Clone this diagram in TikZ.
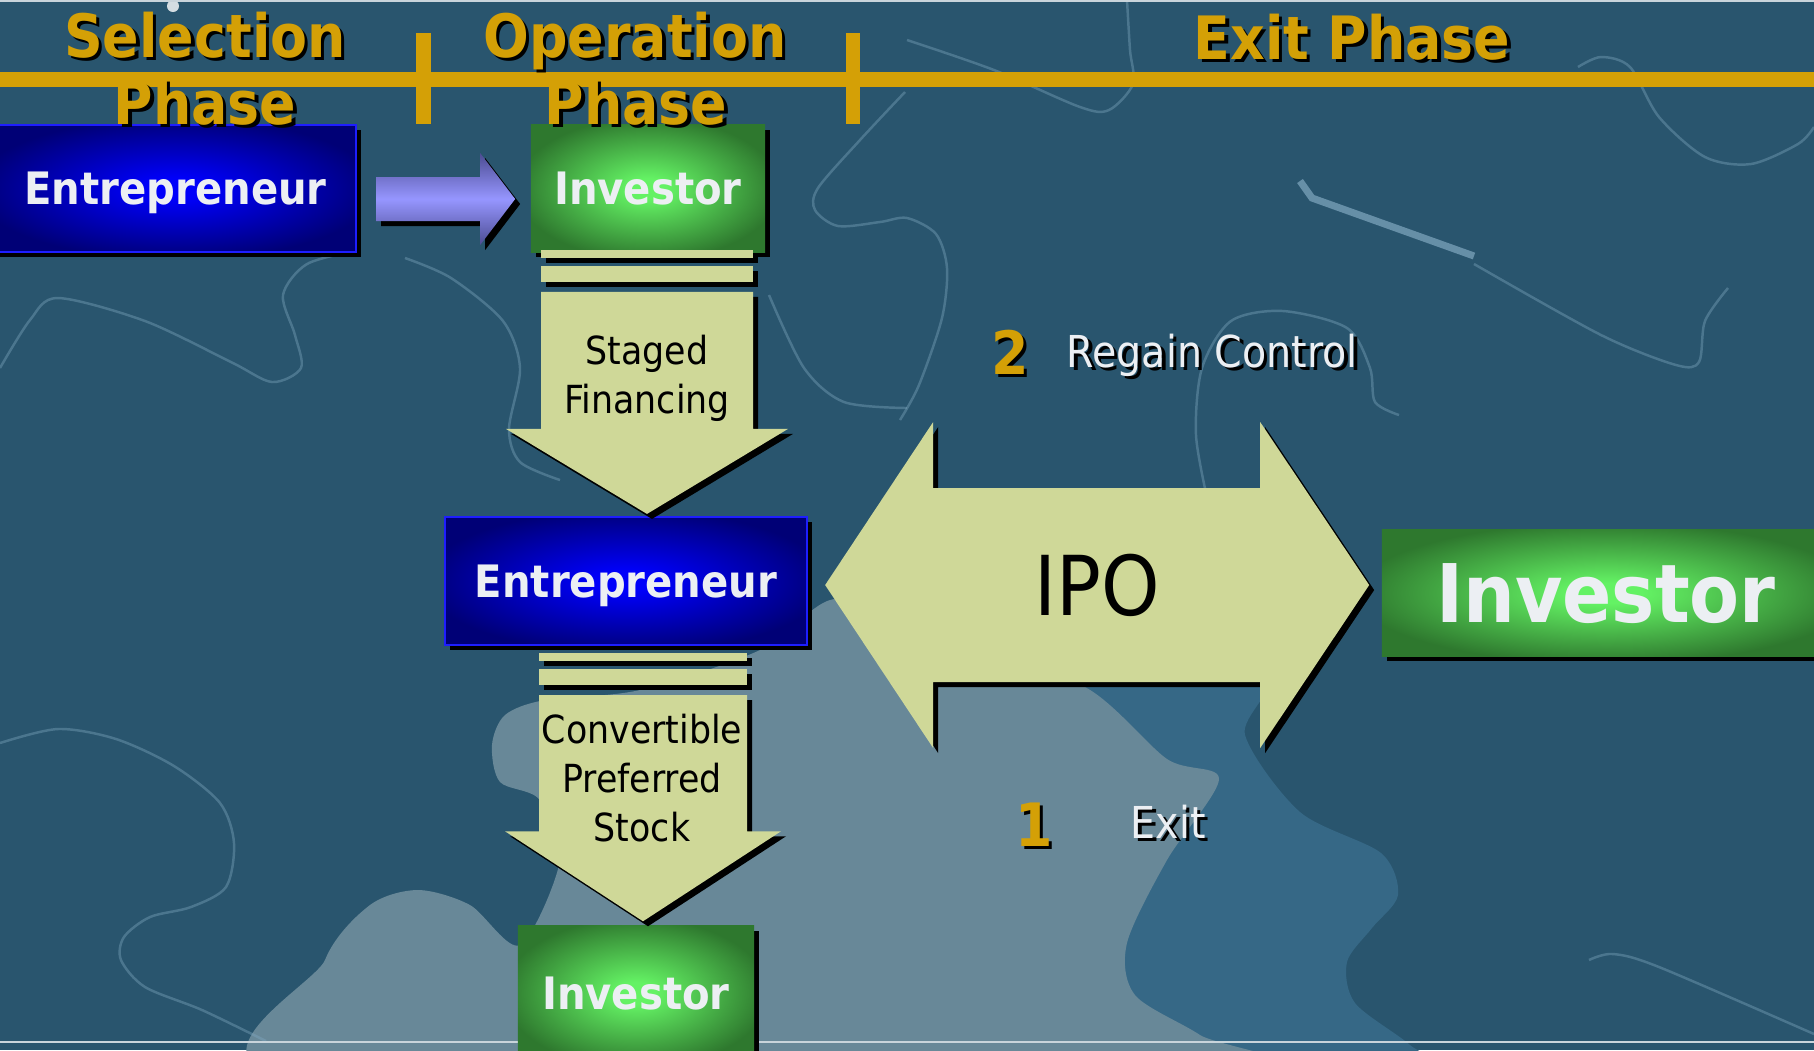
\documentclass[tikz,border=0pt]{standalone}
\usepackage{fontspec}
\setmainfont{DejaVu Sans}[FakeStretch=0.9]
\usetikzlibrary{calc}
\definecolor{slatebg}{RGB}{41,85,110}
\definecolor{pieceA}{RGB}{104,136,152}
\definecolor{pieceB}{RGB}{54,104,134}
\definecolor{seam}{RGB}{128,168,192}
\definecolor{phasegold}{RGB}{212,160,6}
\definecolor{palearrow}{RGB}{207,216,152}
\definecolor{blueIn}{RGB}{0,0,250}
\definecolor{blueOut}{RGB}{0,0,118}
\definecolor{blueEdge}{RGB}{30,30,255}
\definecolor{greenIn}{RGB}{100,242,100}
\definecolor{greenOut}{RGB}{46,120,46}
\definecolor{lilacIn}{RGB}{150,150,255}
\definecolor{lilacOut}{RGB}{76,76,146}
\definecolor{labelwhite}{RGB}{236,239,243}
\pgfdeclareradialshading{blueglow}{\pgfpoint{0bp}{0bp}}{color(0bp)=(blueIn); color(4bp)=(blueIn); color(28bp)=(blueOut); color(75bp)=(blueOut)}
\pgfdeclareradialshading{greenglow}{\pgfpoint{0bp}{0bp}}{color(0bp)=(greenIn); color(4bp)=(greenIn); color(28bp)=(greenOut); color(75bp)=(greenOut)}
\tikzset{
  hardshadow/.style={preaction={fill=black,transform canvas={shift={(#1,#1)}}}},
  hardshadow/.default=5,
  boxlabel/.style={inner sep=0pt,text=labelwhite,font=\bfseries\fontsize{12.7pt}{15pt}\selectfont,
    text height=9.3pt,text depth=0pt},
  entbox/.style={boxlabel,shade,shading=blueglow,draw=blueEdge,line width=0.6pt,hardshadow},
  invbox/.style={boxlabel,shade,shading=greenglow,hardshadow},
  bigbox/.style={invbox,font=\bfseries\fontsize{23pt}{27pt}\selectfont,text height=16.8pt},
  pale/.style={fill=palearrow,hardshadow},
  lilac/.style={hardshadow,top color=lilacOut,bottom color=lilacOut,middle color=lilacIn},
  arrowtext/.style={align=center,inner sep=0pt,font=\fontsize{11pt}{13.9pt}\selectfont},
  phasehead/.style={anchor=base,text=phasegold,inner sep=0pt,font=\bfseries\fontsize{17pt}{20pt}\selectfont},
  numtag/.style={anchor=base,text=phasegold,inner sep=0pt,font=\bfseries\fontsize{17pt}{20pt}\selectfont},
  notetext/.style={anchor=base west,text=labelwhite,inner sep=0pt,font=\fontsize{12.5pt}{15pt}\selectfont},
  seamline/.style={draw=seam,line width=0.7pt,opacity=0.4},
}
% text with a hard black drop shadow
\newcommand{\castnode}[4]{%
  \node[#3,text=black] at ($(#2)+(3.5,3.5)$) {#4};
  \node[#3] (#1) at (#2) {#4};}
% stacked bars plus a fat arrow pointing down
\newcommand{\dropblock}[5]{%
  \fill[pale] ($(#1)+(-#3,7)$) rectangle ($(#1)+(#3,15)$);
  \fill[pale] ($(#1)+(-#3,23)$) rectangle ($(#1)+(#3,39)$);
  \fill[pale] ($(#1)+(-#3,49)$) -- ($(#1)+(#3,49)$) -- ($(#2)+(#3,-#5)$) -- ($(#2)+(#4,-#5)$)
    -- (#2) -- ($(#2)+(-#4,-#5)$) -- ($(#2)+(-#3,-#5)$) -- cycle;}

\begin{document}
\begin{tikzpicture}[x=0.01cm,y=-0.01cm]
  \useasboundingbox (0,0) rectangle (1814,1050);
  \clip (0,0) rectangle (1814,1050);
  % backdrop and puzzle pieces
  \fill[slatebg] (0,0) rectangle (1814,1050);
  \fill[pieceB] plot[smooth cycle,tension=0.5] coordinates {(1083,676) (1262,676) (1245,735)
    (1300,812) (1381,853) (1398,895) (1372,928) (1347,962) (1355,1003) (1410,1045) (1440,1080) (1100,1080)};
  \fill[pieceA] plot[smooth cycle,tension=0.5] coordinates {(300,1080) (325,960) (370,905) (418,890)
    (470,905) (520,945) (560,860) (540,800) (500,782) (492,745) (505,715) (545,700) (640,690)
    (760,650) (830,600) (900,610) (960,660) (1083,686) (1167,759) (1219,779) (1167,860)
    (1127,943) (1135,995) (1200,1035) (1260,1080)};
  \begin{scope}[seamline]
    \draw plot[smooth] coordinates {(0,368) (30,320) (58,298) (145,321) (231,362) (272,382)
      (301,368) (295,335) (283,295) (307,264) (359,250)};
    \draw plot[smooth] coordinates {(405,258) (451,278) (503,321) (520,368) (509,429) (520,462) (560,480)};
    \draw plot[smooth] coordinates {(905,92) (860,140) (818,188) (815,210) (838,226) (880,222)
      (907,218) (936,234) (947,268) (942,318) (919,385) (900,420)};
    \draw plot[smooth] coordinates {(769,295) (804,368) (844,402) (907,408)};
    \draw plot[smooth] coordinates {(1127,0) (1130,50) (1133,84) (1109,110) (1080,107) (994,70) (907,40)};
    \draw plot[smooth] coordinates {(1578,67) (1601,57) (1630,67) (1659,117) (1705,157) (1751,164)
      (1798,144) (1814,127)};
    \draw plot[smooth] coordinates {(1474,264) (1601,335) (1676,365) (1699,362) (1705,321) (1728,288)};
    \draw plot[smooth] coordinates {(1399,415) (1375,402) (1370,368) (1347,328) (1283,311)
      (1231,321) (1202,368) (1196,435) (1208,502)};
    \draw plot[smooth] coordinates {(0,743) (58,729) (116,739) (174,766) (220,803) (234,843)
      (226,887) (191,907) (150,917) (124,937) (121,960) (145,987) (202,1010) (266,1041)};
    \draw plot[smooth] coordinates {(1589,960) (1613,954) (1659,967) (1814,1034)};
  \end{scope}
  \draw[seam,line width=2pt,opacity=0.7] (1300,181) -- (1312,198) -- (1474,256);
  \fill[white,opacity=0.8] (173,6) circle[radius=0.06cm];
  \draw[white!75!slatebg,line width=0.6pt] (0,1) -- (1814,1);
  \draw[white!75!slatebg,line width=0.8pt] (0,1042) -- (1814,1042);

  % phase ruler
  \fill[phasegold] (0,72) rectangle (1814,87);
  \fill[phasegold] (416,33) rectangle (431,124);
  \fill[phasegold] (846,33) rectangle (860,124);

  % boxes
  \node[entbox,minimum width=3.61cm,minimum height=1.27cm] (ent1) at (175.5,188.5) {Entrepreneur};
  \node[invbox,minimum width=2.34cm,minimum height=1.27cm] (inv1) at (648,188.5) {Investor};
  \node[entbox,minimum width=3.62cm,minimum height=1.28cm] (ent2) at (626,581) {Entrepreneur};
  \node[invbox,minimum width=2.36cm,minimum height=1.34cm] (inv2) at (636,993) {Investor};
  \node[bigbox,minimum width=4.48cm,minimum height=1.26cm] (inv3) at (1606,593) {Investor};

  % selection -> operation
  \coordinate (hand) at ($(ent1.east)+(19,10.5)$);
  \begin{scope}[shift={(hand)}]
    \path[lilac] (0,-22) -- (104,-22) -- (104,-46) -- (139,0) -- (104,46) -- (104,22) -- (0,22) -- cycle;
  \end{scope}

  % staged financing
  \coordinate (sf) at ($(inv1.south)+(-1,-10)$);
  \coordinate (sftip) at ($(sf |- ent2.north)+(0,-2)$);
  \dropblock{sf}{sftip}{106}{141}{85}
  \node[arrowtext] (staged) at ($(sf)+(0,136)$) {Staged\\Financing};

  % convertible preferred stock
  \coordinate (cp) at ($(ent2.south)+(17,0)$);
  \coordinate (cptip) at ($(cp |- inv2.north)+(0,-4)$);
  \dropblock{cp}{cptip}{104}{138}{90}
  \node[arrowtext] (cps) at ($(cp)+(-1,132)$) {Convertible\\Preferred\\Stock};

  % IPO, both ways
  \coordinate (ipoL) at ($(ent2.east)+(17,4)$);
  \coordinate (ipoR) at ($(inv3.west |- ipoL)+(-12,0)$);
  \fill[pale] (ipoL) -- ($(ipoL)+(108,-163)$) -- ($(ipoL)+(108,-97)$) -- ($(ipoR)+(-109,-97)$)
    -- ($(ipoR)+(-109,-163)$) -- (ipoR) -- ($(ipoR)+(-109,163)$) -- ($(ipoR)+(-109,97)$)
    -- ($(ipoL)+(108,97)$) -- ($(ipoL)+(108,163)$) -- cycle;
  \node[inner sep=0pt,font=\fontsize{23.5pt}{28pt}\selectfont] (ipo) at ($(ipoL)!0.5!(ipoR)$) {IPO};

  % headings and notes
  \castnode{hSel}{205,57}{phasehead}{Selection}
  \castnode{hSelB}{205,124}{phasehead}{Phase}
  \castnode{hOp}{635,57}{phasehead}{Operation}
  \castnode{hOpB}{636,124}{phasehead}{Phase}
  \castnode{hExit}{1352,59}{phasehead}{Exit Phase}
  \castnode{mk2}{1010,374}{numtag}{2}
  \castnode{regain}{1066,367}{notetext}{Regain Control}
  \castnode{mk1}{1034,846}{numtag}{1}
  \castnode{exit}{1130,838}{notetext}{Exit}
\end{tikzpicture}
\end{document}
